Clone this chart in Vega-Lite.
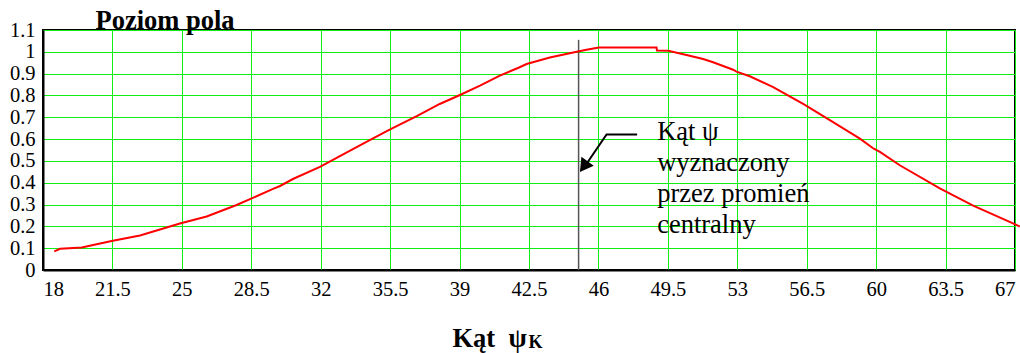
{
  "$schema": "https://vega.github.io/schema/vega-lite/v6.json",
  "width": 972,
  "height": 240,
  "autosize": {"type": "none"},
  "padding": {"left": 43, "top": 30, "right": 5, "bottom": 83},
  "background": "white",
  "config": {
    "font": "Liberation Serif",
    "view": {"stroke": "black", "strokeWidth": 2},
    "axis": {
      "domainColor": "black",
      "domainWidth": 2,
      "ticks": false,
      "labelFont": "Liberation Serif",
      "labelFontSize": 20.5,
      "labelColor": "black",
      "gridColor": "#11ee11",
      "gridWidth": 1,
      "gridOpacity": 1
    }
  },
  "datasets": {
    "curve": [
      {"x": 18.57, "y": 0.085}, {"x": 18.86, "y": 0.097}, {"x": 19.95, "y": 0.103},
      {"x": 21.46, "y": 0.133}, {"x": 22.89, "y": 0.158}, {"x": 24.9, "y": 0.213},
      {"x": 26.25, "y": 0.245}, {"x": 27.76, "y": 0.298}, {"x": 28.52, "y": 0.328},
      {"x": 29.6, "y": 0.372}, {"x": 29.95, "y": 0.385}, {"x": 30.6, "y": 0.417},
      {"x": 31.96, "y": 0.473}, {"x": 33.06, "y": 0.526}, {"x": 34.14, "y": 0.579},
      {"x": 35.4, "y": 0.64}, {"x": 36.84, "y": 0.705}, {"x": 38.0, "y": 0.761},
      {"x": 39.02, "y": 0.802}, {"x": 40.03, "y": 0.845}, {"x": 41.03, "y": 0.891},
      {"x": 42.0, "y": 0.928}, {"x": 42.38, "y": 0.944}, {"x": 43.55, "y": 0.974},
      {"x": 44.73, "y": 0.997}, {"x": 45.4, "y": 1.009}, {"x": 46.02, "y": 1.02},
      {"x": 48.93, "y": 1.02}, {"x": 48.95, "y": 1.006}, {"x": 49.52, "y": 1.005},
      {"x": 50.44, "y": 0.985}, {"x": 51.28, "y": 0.967}, {"x": 51.78, "y": 0.952},
      {"x": 52.79, "y": 0.918}, {"x": 52.96, "y": 0.909}, {"x": 53.63, "y": 0.888},
      {"x": 54.81, "y": 0.838}, {"x": 56.32, "y": 0.761}, {"x": 57.83, "y": 0.678},
      {"x": 59.18, "y": 0.602}, {"x": 59.88, "y": 0.556}, {"x": 60.19, "y": 0.541},
      {"x": 61.19, "y": 0.48}, {"x": 63.21, "y": 0.374}, {"x": 64.89, "y": 0.295},
      {"x": 66.9, "y": 0.214}, {"x": 67.24, "y": 0.199}
    ],
    "marker": [{"x": 45, "y": 0, "y2": 1.055}],
    "arrow": [
      {"x": 47.95, "y": 0.621, "o": 1},
      {"x": 46.41, "y": 0.621, "o": 2},
      {"x": 45.35, "y": 0.48, "o": 3}
    ],
    "arrowhead": [{"x": 45.26, "y": 0.474}],
    "note": [
      {"x": 48.96, "y": 0.594, "t": "Kąt ψ"},
      {"x": 48.96, "y": 0.453, "t": "wyznaczony"},
      {"x": 48.96, "y": 0.311, "t": "przez promień"},
      {"x": 48.96, "y": 0.17, "t": "centralny"}
    ],
    "sub": [{"x": 42.48, "y": -0.356, "t": "K"}]
  },
  "encoding": {
    "x": {
      "field": "x",
      "type": "quantitative",
      "scale": {"domain": [18, 67], "nice": false, "zero": false},
      "axis": {
        "values": [18, 21.5, 25, 28.5, 32, 35.5, 39, 42.5, 46, 49.5, 53, 56.5, 60, 63.5, 67],
        "format": ".4~g",
        "labelFlush": true,
        "labelPadding": 9,
        "grid": true,
        "title": "Kąt\u00a0\u00a0ψ",
        "titleFont": "Liberation Serif",
        "titleFontSize": 26.5,
        "titleFontWeight": "bold",
        "titleColor": "black",
        "titleAlign": "left",
        "titleAnchor": "start",
        "titleBaseline": "alphabetic",
        "titleX": 409,
        "titleY": 76
      }
    },
    "y": {
      "field": "y",
      "type": "quantitative",
      "scale": {"domain": [0, 1.1], "nice": false, "zero": false},
      "axis": {
        "values": [0, 0.1, 0.2, 0.3, 0.4, 0.5, 0.6, 0.7, 0.8, 0.9, 1, 1.1],
        "format": ".3~g",
        "labelPadding": 8,
        "grid": true,
        "title": "Poziom pola",
        "titleAngle": 0,
        "titleFont": "Liberation Serif",
        "titleFontSize": 26.5,
        "titleFontWeight": "bold",
        "titleColor": "black",
        "titleAlign": "left",
        "titleBaseline": "alphabetic",
        "titleX": 52,
        "titleY": -2
      }
    }
  },
  "layer": [
    {
      "data": {"name": "marker"},
      "mark": {"type": "rule", "color": "#555555", "strokeWidth": 1.5},
      "encoding": {"y2": {"field": "y2"}}
    },
    {
      "data": {"name": "curve"},
      "mark": {"type": "line", "color": "#ff0000", "strokeWidth": 2, "clip": false},
      "encoding": {"order": {"field": "x", "type": "quantitative"}}
    },
    {
      "data": {"name": "arrow"},
      "mark": {"type": "line", "color": "black", "strokeWidth": 2},
      "encoding": {"order": {"field": "o", "type": "quantitative"}}
    },
    {
      "data": {"name": "arrowhead"},
      "mark": {"type": "point", "shape": "triangle-up", "filled": true, "color": "black", "opacity": 1, "size": 230, "angle": 215.6},
      "encoding": {}
    },
    {
      "data": {"name": "note"},
      "mark": {"type": "text", "align": "left", "baseline": "alphabetic", "font": "Liberation Serif", "fontSize": 26.5, "color": "black"},
      "encoding": {"text": {"field": "t"}}
    },
    {
      "data": {"name": "sub"},
      "mark": {"type": "text", "align": "left", "baseline": "alphabetic", "font": "Liberation Serif", "fontSize": 18, "fontWeight": "bold", "color": "black", "clip": false},
      "encoding": {"text": {"field": "t"}}
    }
  ]
}
